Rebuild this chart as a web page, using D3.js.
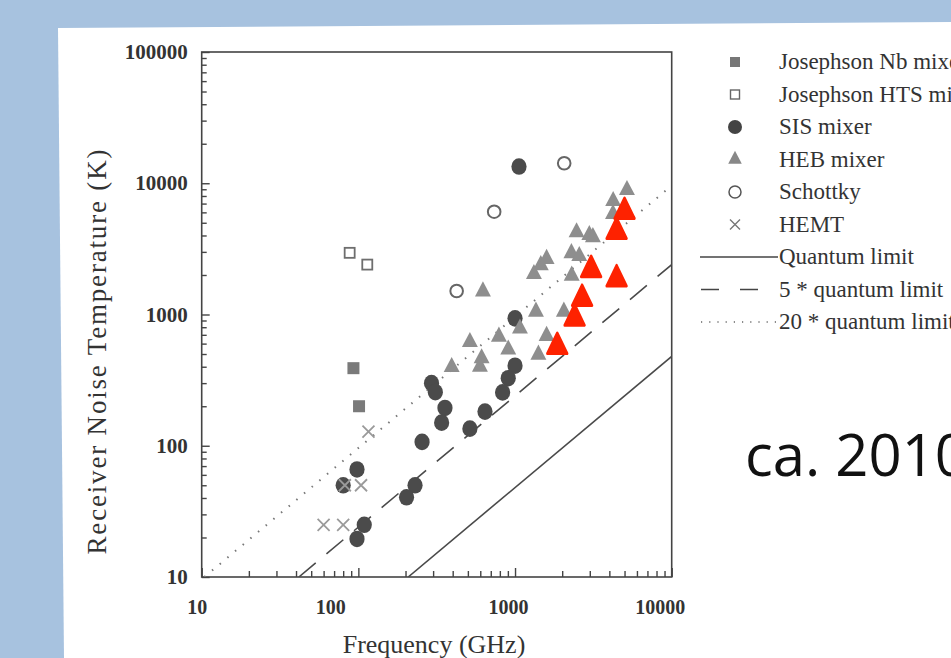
<!DOCTYPE html>
<html>
<head>
<meta charset="utf-8">
<script src="https://cdn.jsdelivr.net/npm/d3@7"></script>
<style>
  body { margin: 0; background: #a7c2df; }
  svg { display: block; }
</style>
</head>
<body>
<svg width="951" height="658"></svg>
<script>
// Josephson Nb mixer
const nbFreq = [93, 101];
const nbTemp = [390, 200];
// Josephson HTS mixer
const htsFreq = [88, 114];
const htsTemp = [2950, 2400];
// SIS mixer
const sisFreq = [1060, 1000, 1000, 905, 833, 643, 515, 293, 310, 357, 340, 255, 230, 203, 98, 80, 109, 98];
const sisTemp = [13400, 935, 407, 327, 255, 182, 135, 300, 256, 194, 150, 107, 50, 40.5, 66, 50, 25, 19.5];
// HEB mixer
const hebFreq = [624, 394, 515, 612, 597, 789, 905, 1075, 1360, 1590, 1410, 2050, 2300, 1320, 1460, 1590, 2290, 2570, 2470, 2980, 3140, 4230, 4220, 5180];
const hebTemp = [1500, 398, 617, 464, 400, 677, 541, 782, 1050, 686, 494, 1050, 1975, 2035, 2380, 2650, 2930, 2790, 4230, 4030, 3890, 7320, 5830, 8880];
// Schottky
const schFreq = [424, 736, 2060];
const schTemp = [1510, 6070, 14200];
// HEMT
const hemtFreq = [116, 82, 104, 60, 80];
const hemtTemp = [128, 50, 50, 25, 25];
// newer HEB results (red, added on the slide)
const newFreq = [5000, 4450, 3060, 4450, 2680, 2400, 1860];
const newTemp = [6070, 4280, 2190, 1860, 1320, 935, 568];
// limit lines (end points)
const qlFreq = [208, 10000], qlTemp = [10, 480];
const q5Freq = [41.7, 10000], q5Temp = [10, 2400];
const q20Freq = [10.4, 10000], q20Temp = [10, 9600];

const xTicks = [10, 100, 1000, 10000];
const yTicks = [10, 100, 1000, 10000, 100000];
const legendLabels = ["Josephson Nb mixer", "Josephson HTS mixer", "SIS mixer", "HEB mixer", "Schottky", "HEMT",
                      "Quantum limit", "5 * quantum limit", "20 * quantum limit"];

var svg = d3.select("svg");
var serif = "'Liberation Serif','DejaVu Serif',serif";
var ink = "#333";

// slide: white panel on the blue background
svg.append("path")
   .attr("d", "M58,28 L951,22 L951,658 L64,658 Z")
   .attr("fill", "#fff");

var x = d3.scaleLog().domain([10, 10000]).range([201.7, 671.7]);
var y = d3.scaleLog().domain([10, 100000]).range([577, 52]);

var minorX = [], minorY = [];
for (var p = 10; p < 10000; p *= 10) for (var k = 2; k < 10; k++) minorX.push(p * k);
for (var p = 10; p < 100000; p *= 10) for (var k = 2; k < 10; k++) minorY.push(p * k);

var g = svg.append("g");

// clip for limit lines
svg.append("clipPath").attr("id", "plotclip")
   .append("rect").attr("x", 201.7).attr("y", 52).attr("width", 470).attr("height", 525);

// ticks (inside)
g.append("g").attr("transform", "translate(0,577)")
 .call(d3.axisBottom(x).tickValues(minorX).tickSize(-6).tickFormat(""))
 .call(a => a.select(".domain").remove());
g.append("g").attr("transform", "translate(0,577)")
 .call(d3.axisBottom(x).tickValues(xTicks).tickSize(-9).tickFormat(""))
 .call(a => a.select(".domain").remove());
g.append("g").attr("transform", "translate(201.7,0)")
 .call(d3.axisLeft(y).tickValues(minorY).tickSize(-5).tickFormat(""))
 .call(a => a.select(".domain").remove());
g.append("g").attr("transform", "translate(201.7,0)")
 .call(d3.axisLeft(y).tickValues(yTicks).tickSize(-8).tickFormat(""))
 .call(a => a.select(".domain").remove());
g.selectAll(".tick line").attr("stroke", "#444").attr("stroke-width", 1.4);

// tick labels
var xLabelShift = {10: -5, 100: -28, 1000: -7, 10000: -12};
var xl = g.append("g").attr("transform", "translate(0,577)")
 .call(d3.axisBottom(x).tickValues(xTicks).tickSize(0).tickPadding(23).tickFormat(d3.format("d")));
xl.select(".domain").remove();
xl.selectAll("text").attr("dx", d => xLabelShift[d])
  .attr("font-family", serif).attr("font-weight", "bold").attr("font-size", 20).attr("fill", ink);

var yl = g.append("g").attr("transform", "translate(201.7,0)")
 .call(d3.axisLeft(y).tickValues(yTicks).tickSize(0).tickPadding(14).tickFormat(d3.format("d")));
yl.select(".domain").remove();
yl.selectAll("text")
  .attr("font-family", serif).attr("font-weight", "bold").attr("font-size", 21).attr("fill", ink);

// frame
g.append("rect").attr("x", 201.7).attr("y", 52).attr("width", 470).attr("height", 525)
 .attr("fill", "none").attr("stroke", "#444").attr("stroke-width", 1.6);

// axis titles
g.append("text").attr("x", 434).attr("y", 653).attr("text-anchor", "middle")
 .attr("font-family", serif).attr("font-size", 26).attr("fill", ink)
 .text("Frequency (GHz)");
g.append("text").attr("transform", "translate(106,352) rotate(-90)").attr("text-anchor", "middle")
 .attr("font-family", serif).attr("font-size", 27).attr("fill", ink)
 .attr("textLength", 405).attr("lengthAdjust", "spacing")
 .text("Receiver Noise Temperature (K)");

// limit lines
var lineGen = d3.line().x(d => x(d[0])).y(d => y(d[1]));
var lines = g.append("g").attr("clip-path", "url(#plotclip)")
  .attr("fill", "none").attr("stroke", "#4a4a4a").attr("stroke-width", 1.6);
lines.append("path").attr("d", lineGen(d3.zip(qlFreq, qlTemp)));
lines.append("path").attr("d", lineGen(d3.zip(q5Freq, q5Temp))).attr("stroke-dasharray", "22,14");
lines.append("path").attr("d", lineGen(d3.zip(q20Freq, q20Temp)))
     .attr("stroke-dasharray", "1.5,8.5").attr("stroke-width", 2).attr("stroke", "#777");

// markers
var tri = d3.symbol().type(d3.symbolTriangle);

g.append("g").selectAll("ellipse").data(d3.zip(sisFreq, sisTemp)).enter()
 .append("ellipse").attr("cx", d => x(d[0])).attr("cy", d => y(d[1]))
 .attr("rx", 7.6).attr("ry", 8.3).attr("fill", "#4b4b4b");

g.append("g").selectAll("path").data(d3.zip(hebFreq, hebTemp)).enter()
 .append("path").attr("d", tri.size(110))
 .attr("transform", d => "translate(" + x(d[0]) + "," + y(d[1]) + ") scale(1,1.1)")
 .attr("fill", "#8e8e8e");

g.append("g").selectAll("rect").data(d3.zip(nbFreq, nbTemp)).enter()
 .append("rect").attr("x", d => x(d[0]) - 6).attr("y", d => y(d[1]) - 6)
 .attr("width", 12).attr("height", 12).attr("fill", "#7a7a7a");

g.append("g").selectAll("rect").data(d3.zip(htsFreq, htsTemp)).enter()
 .append("rect").attr("x", d => x(d[0]) - 5).attr("y", d => y(d[1]) - 5)
 .attr("width", 10).attr("height", 10).attr("fill", "none")
 .attr("stroke", "#6e6e6e").attr("stroke-width", 1.8);

g.append("g").selectAll("circle").data(d3.zip(schFreq, schTemp)).enter()
 .append("circle").attr("cx", d => x(d[0])).attr("cy", d => y(d[1])).attr("r", 6.3)
 .attr("fill", "none").attr("stroke", "#666").attr("stroke-width", 2);

g.append("g").selectAll("path").data(d3.zip(hemtFreq, hemtTemp)).enter()
 .append("path").attr("d", "M-6,-6L6,6M-6,6L6,-6")
 .attr("transform", d => "translate(" + x(d[0]) + "," + y(d[1]) + ")")
 .attr("stroke", "#9a9a9a").attr("stroke-width", 1.8).attr("fill", "none");

g.append("g").selectAll("path").data(d3.zip(newFreq, newTemp)).enter()
 .append("path").attr("d", tri.size(170))
 .attr("transform", d => "translate(" + x(d[0]) + "," + y(d[1]) + ") scale(1,1.2)")
 .attr("fill", "#fe2200").attr("stroke", "#fe2200").attr("stroke-width", 2.5)
 .attr("stroke-linejoin", "round");

// legend
var leg = svg.append("g");
var rowY = i => 62 + i * 32.5;
leg.selectAll("text").data(legendLabels).enter().append("text")
   .attr("x", 779).attr("y", (d, i) => rowY(i) + 7)
   .attr("font-family", serif).attr("font-size", 23).attr("fill", ink)
   .text(d => d);
leg.append("rect").attr("x", 730).attr("y", rowY(0) - 5).attr("width", 10).attr("height", 10).attr("fill", "#777");
leg.append("rect").attr("x", 730.5).attr("y", rowY(1) - 4.5).attr("width", 9).attr("height", 9)
   .attr("fill", "none").attr("stroke", "#666").attr("stroke-width", 1.4);
leg.append("circle").attr("cx", 735).attr("cy", rowY(2)).attr("r", 7).attr("fill", "#444");
leg.append("path").attr("d", tri.size(80)).attr("transform", "translate(735," + rowY(3) + ") scale(1,1.1)").attr("fill", "#888");
leg.append("circle").attr("cx", 735).attr("cy", rowY(4)).attr("r", 6).attr("fill", "none")
   .attr("stroke", "#555").attr("stroke-width", 1.5);
leg.append("path").attr("d", "M-5,-5L5,5M-5,5L5,-5").attr("transform", "translate(735," + rowY(5) + ")")
   .attr("stroke", "#777").attr("stroke-width", 1.4);
leg.append("line").attr("x1", 700).attr("x2", 778).attr("y1", rowY(6)).attr("y2", rowY(6))
   .attr("stroke", "#444").attr("stroke-width", 1.4);
leg.append("line").attr("x1", 701).attr("x2", 758).attr("y1", rowY(7)).attr("y2", rowY(7))
   .attr("stroke", "#444").attr("stroke-width", 1.4).attr("stroke-dasharray", "18,21");
leg.append("line").attr("x1", 701).attr("x2", 776).attr("y1", rowY(8)).attr("y2", rowY(8))
   .attr("stroke", "#666").attr("stroke-width", 1.4).attr("stroke-dasharray", "1.2,7");

// slide annotation
svg.append("text").attr("x", 745).attr("y", 476)
   .attr("font-family", "'Open Sans','Liberation Sans',sans-serif").attr("font-size", 58).attr("fill", "#111")
   .text("ca. 2010");
</script>
</body>
</html>
